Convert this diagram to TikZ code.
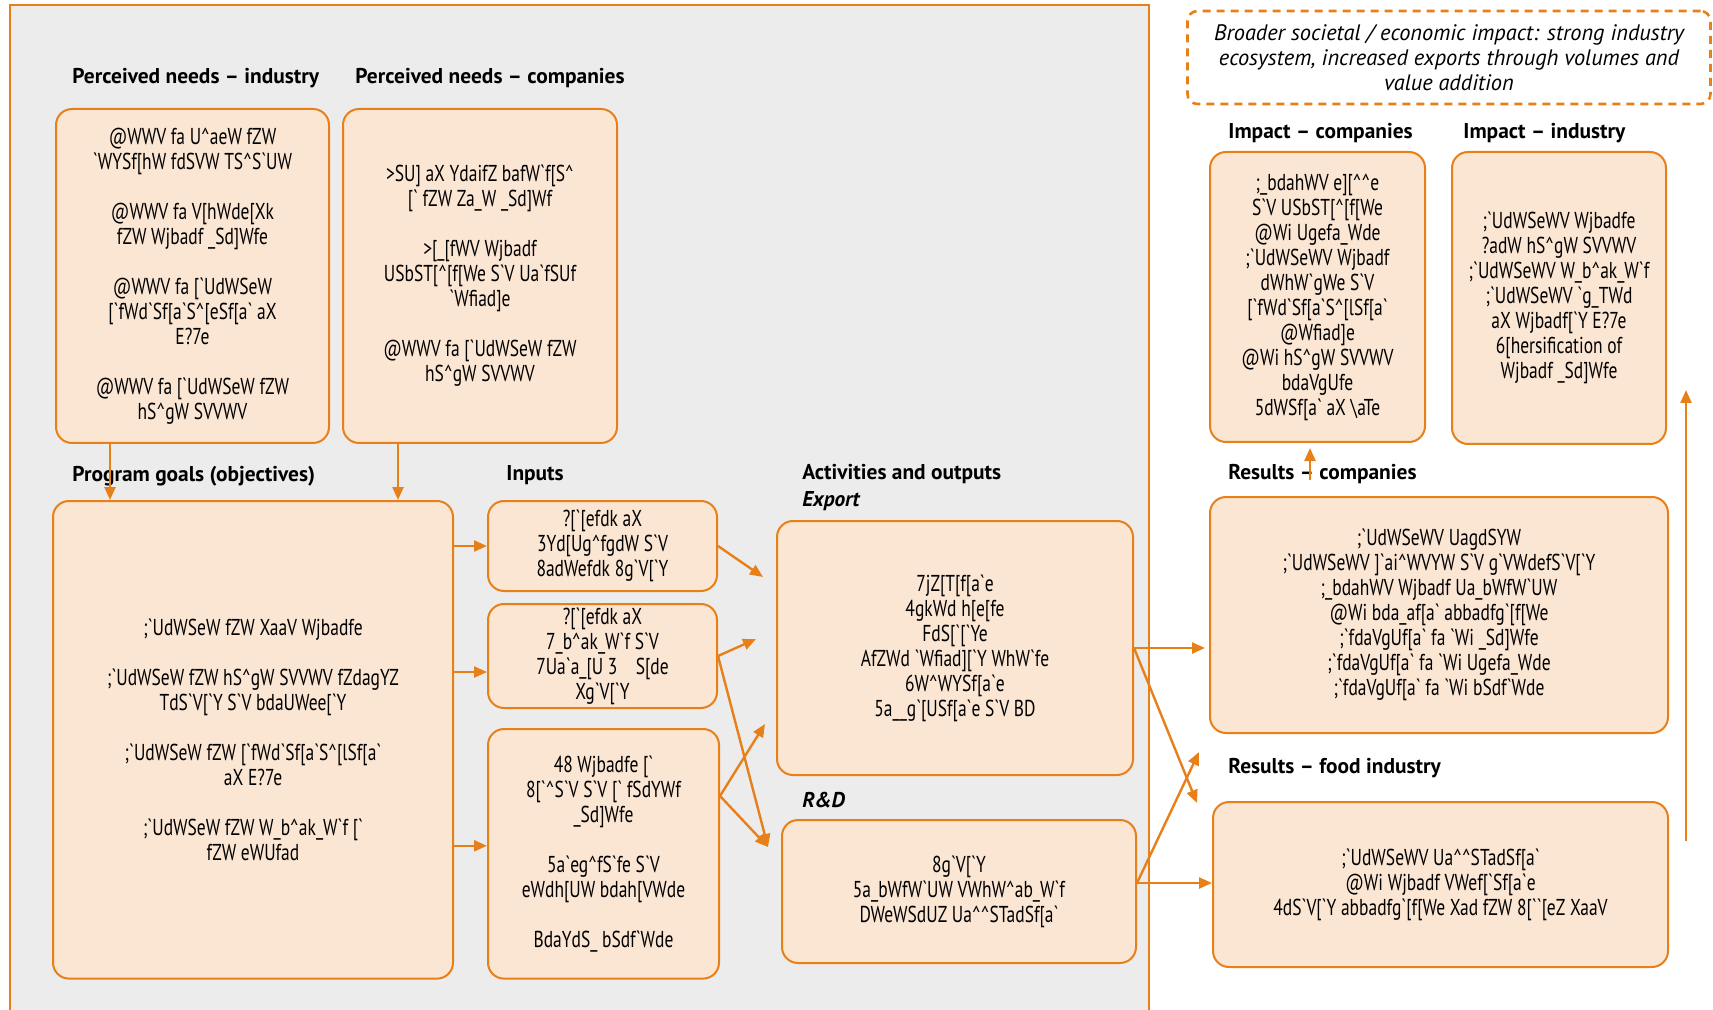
\documentclass[tikz,border=0pt]{standalone}
\usepackage{fontspec}
\setmainfont{PT Sans}
\newfontfamily\garb[FakeStretch=0.76,Ligatures=TeXOff]{PT Sans}
\usetikzlibrary{arrows.meta}

\definecolor{naranja}{HTML}{E8801A}
\definecolor{piel}{HTML}{FBE5D3}
\definecolor{panel}{HTML}{ECECEC}
\newcommand{\ci}{\textasciicircum}
\newcommand{\bs}{\textbackslash}

\tikzset{
  cuadro/.style={draw=naranja, fill=piel, line width=1pt, rounded corners=8pt, align=center, inner sep=1pt, font={\garb\fontsize{11.5}{12.5}\selectfont}},
  titulo/.style={anchor=west, inner sep=0pt, font={\bfseries\fontsize{10.7}{12}\selectfont}},
  flecha/.style={draw=naranja, line width=1.2pt, -{Triangle[length=6.5pt,width=5.5pt]}},
}

\begin{document}
\begin{tikzpicture}[x=0.5pt, y=-0.5pt]

    \useasboundingbox (0,0) rectangle (1713,1010);

    % Panel del programa
    \fill[panel] (10,5) rectangle (1149,1010);
    \draw[naranja, line width=1pt] (10,1010) -- (10,5) -- (1149,5) -- (1149,1010);

    % Necesidades percibidas
    \node[cuadro, minimum width=136.5pt, minimum height=167pt] (pni) at (192.5,276) {@WWV fa U\ci{}aeW fZW\\`WYSf[hW fdSVW TS\ci{}S`UW\\[12.5pt]@WWV fa V[hWde[Xk\\fZW Wjbadf \_Sd]Wfe\\[12.5pt]@WWV fa [`UdWSeW\\{}[`fWd`Sf[a`S\ci{}[eSf[a` aX\\E?7e\\[12.5pt]@WWV fa [`UdWSeW fZW\\hS\ci{}gW SVVWV};
    \node[cuadro, minimum width=137pt, minimum height=167pt] (pnc) at (480,276) {>SU] aX YdaifZ bafW`f[S\ci{}\\{}[` fZW Za\_W \_Sd]Wf\\[12.5pt]>[\_[fWV Wjbadf\\USbST[\ci{}[f[We S`V Ua`fSUf\\`Wfiad]e\\[12.5pt]@WWV fa [`UdWSeW fZW\\hS\ci{}gW SVVWV};

    % Objetivos
    \node[cuadro, minimum width=200pt, minimum height=238.8pt] (pg) at (253,739.8) {;`UdWSeW fZW XaaV Wjbadfe\\[12.5pt];`UdWSeW fZW hS\ci{}gW SVVWV fZdagYZ\\TdS`V[`Y S`V bdaUWee[`Y\\[12.5pt];`UdWSeW fZW [`fWd`Sf[a`S\ci{}[lSf[a`\\aX E?7e\\[12.5pt];`UdWSeW fZW W\_b\ci{}ak\_W`f [`\\fZW eWUfad};

    % Insumos
    \node[cuadro, minimum width=114.5pt, minimum height=45pt] (in1) at (602.5,546) {?[`[efdk aX\\3Yd[Ug\ci{}fgdW S`V\\8adWefdk 8g`V[`Y};
    \node[cuadro, minimum width=114.5pt, minimum height=52pt] (in2) at (602.5,656) {?[`[efdk aX\\7\_b\ci{}ak\_W`f S`V\\7Ua`a\_[U 3\hspace{0.8em}S[de\\Xg`V[`Y};
    \node[cuadro, minimum width=115.5pt, minimum height=124.8pt] (in3) at (603.5,853.8) {48 Wjbadfe [`\\8[`\ci{}S`V S`V [` fSdYWf\\\_Sd]Wfe\\[12.5pt]5a`eg\ci{}fS`fe S`V\\eWdh[UW bdah[VWde\\[12.5pt]BdaYdS\_ bSdf`Wde};

    % Actividades
    \node[cuadro, minimum width=178pt, minimum height=127pt] (exp) at (955,648) {7jZ[T[f[a`e\\4gkWd h[e[fe\\FdS[`[`Ye\\AfZWd `Wfiad][`Y WhW`fe\\6W\ci{}WYSf[a`e\\5a\_\_g`[USf[a`e S`V BD};
    \node[cuadro, minimum width=177pt, minimum height=71.5pt] (rd) at (959,891.5) {8g`V[`Y\\5a\_bWfW`UW VWhW\ci{}ab\_W`f\\DWeWSdUZ Ua\ci{}\ci{}STadSf[a`};

    % Resultados
    \node[cuadro, minimum width=229pt, minimum height=118pt] (rc) at (1439,615) {;`UdWSeWV UagdSYW\\;`UdWSeWV ]`ai\ci{}WVYW S`V g`VWdefS`V[`Y\\;\_bdahWV Wjbadf Ua\_bWfW`UW\\@Wi bda\_af[a` abbadfg`[f[We\\;`fdaVgUf[a` fa `Wi \_Sd]Wfe\\;`fdaVgUf[a` fa `Wi Ugefa\_Wde\\;`fdaVgUf[a` fa `Wi bSdf`Wde};
    \node[cuadro, minimum width=227.5pt, minimum height=82.5pt] (rf) at (1440.5,884.5) {;`UdWSeWV Ua\ci{}\ci{}STadSf[a`\\@Wi Wjbadf VWef[`Sf[a`e\\4dS`V[`Y abbadfg`[f[We Xad fZW 8[``[eZ XaaV};

    % Impacto
    \node[cuadro, minimum width=107.5pt, minimum height=145pt] (ic) at (1317.5,297) {;\_bdahWV e][\ci{}\ci{}e\\S`V USbST[\ci{}[f[We\\@Wi Ugefa\_Wde\\;`UdWSeWV Wjbadf\\dWhW`gWe S`V\\{}[`fWd`Sf[a`S\ci{}[lSf[a`\\@Wfiad]e\\@Wi hS\ci{}gW SVVWV\\bdaVgUfe\\5dWSf[a` aX \bs{}aTe};
    \node[cuadro, minimum width=107pt, minimum height=146pt] (ii) at (1559,298) {;`UdWSeWV Wjbadfe\\?adW hS\ci{}gW SVVWV\\;`UdWSeWV W\_b\ci{}ak\_W`f\\;`UdWSeWV `g\_TWd\\aX Wjbadf[`Y E?7e\\6[hersification of\\Wjbadf \_Sd]Wfe};

    % Impacto amplio
    \node[draw=naranja, line width=1.3pt, dash pattern=on 4pt off 3pt, rounded corners=5pt, align=center, inner sep=1pt, minimum width=261.5pt, minimum height=46.5pt, font={\itshape\fontsize{11.2}{12.5}\selectfont}] (amplio) at (1449,57.5) {Broader societal / economic impact: strong industry\\ecosystem, increased exports through volumes and\\value addition};

    % Titulos
    \node[titulo] (tpni) at (72,78) {Perceived needs – industry};
    \node[titulo] (tpnc) at (355,78) {Perceived needs – companies};
    \node[titulo] (tpg) at (72,476) {Program goals (objectives)};
    \node[titulo] (tin) at (506,475) {Inputs};
    \node[titulo] (tact) at (802,474) {Activities and outputs};
    \node[titulo, font={\bfseries\itshape\fontsize{10.7}{12}\selectfont}] (texp) at (802,501) {Export};
    \node[titulo, font={\bfseries\itshape\fontsize{10.7}{12}\selectfont}] (trd) at (802,800) {R\&D};
    \node[titulo] (tic) at (1228,133) {Impact – companies};
    \node[titulo] (tii) at (1463,133) {Impact – industry};
    \node[titulo] (trc) at (1228,474) {Results – companies};
    \node[titulo] (trf) at (1228,768) {Results – food industry};

    % Flechas
    \coordinate (p1) at ([xshift=-41.25pt]pni.south);
    \draw[flecha] (p1) -- (p1 |- pg.north);
    \coordinate (p2) at ([xshift=-41pt]pnc.south);
    \draw[flecha] (p2) -- (p2 |- pg.north);
    \draw[flecha] (pg.east |- in1.west) -- (in1.west);
    \coordinate (e2) at ([yshift=-8pt]in2.west);
    \draw[flecha] (pg.east |- e2) -- (e2);
    \coordinate (e3) at ([yshift=4pt]in3.west);
    \draw[flecha] (pg.east |- e3) -- (e3);

    \coordinate (t1) at (763,577);
    \coordinate (t2) at (756,639);
    \coordinate (t3) at (765,724);
    \coordinate (t4) at (768,847);
    \coordinate (s3) at ([yshift=28.9pt]in3.east);
    \draw[flecha] (in1.east) -- (t1);
    \draw[flecha] (in2.east) -- (t2);
    \draw[flecha] (in2.east) -- (t4);
    \draw[flecha] (s3) -- (t3);
    \draw[flecha] (s3) -- (t4);

    \coordinate (t5) at (1197,803);
    \coordinate (t6) at (1199,752);
    \coordinate (s4) at ([yshift=4.25pt]rd.east);
    \draw[flecha, shorten >=2pt] (exp.east) -- (exp.east -| rc.west);
    \draw[flecha] (exp.east) -- (t5);
    \draw[flecha] (s4) -- (s4 -| rf.west);
    \draw[flecha] (s4) -- (t6);

    \coordinate (s5) at (1310,480);
    \draw[flecha, shorten >=2.5pt] (s5) -- (s5 |- ic.south);
    \coordinate (s6) at (1686,841);
    \coordinate (t7) at (1686,390);
    \draw[flecha] (s6) -- (t7);

\end{tikzpicture}
\end{document}
